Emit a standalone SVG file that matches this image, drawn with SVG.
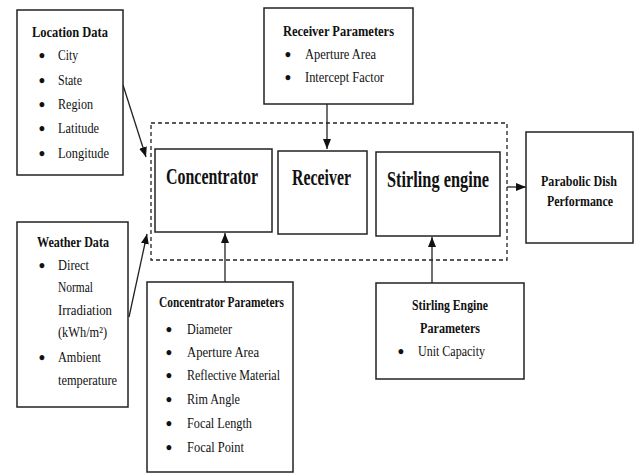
<svg xmlns="http://www.w3.org/2000/svg" width="636" height="475" viewBox="0 0 636 475">
<style>
.box{fill:#fff;stroke:#222;stroke-width:1.5}
.dash{fill:none;stroke:#222;stroke-width:1.3;stroke-dasharray:4 3}
.ln{fill:none;stroke:#222;stroke-width:1.3}
.txt text{font-family:'Liberation Serif','Times New Roman','DejaVu Serif',serif;fill:#111}
.t{font-size:15px;font-weight:bold}
.b{font-size:15px}
.bul{font-size:18px;text-anchor:middle;font-weight:bold}
.big{font-size:23px;font-weight:bold}
</style>
<defs>
<marker id="ah" markerUnits="userSpaceOnUse" markerWidth="10" markerHeight="10" viewBox="0 0 10 10" refX="10" refY="5" orient="auto">
<path d="M0,1 L10,5 L0,9 Z" fill="#111"/>
</marker>
</defs>
<rect width="636" height="475" fill="#fff"/>
<g id="dashed-group"><rect class="dash" x="151" y="123" width="356" height="137"/></g>
<g id="connectors">
<line class="ln" x1="123" y1="85" x2="146" y2="157" marker-end="url(#ah)"/>
<line class="ln" x1="129" y1="317" x2="147" y2="234" marker-end="url(#ah)"/>
<line class="ln" x1="327" y1="104" x2="327" y2="149" marker-end="url(#ah)"/>
<line class="ln" x1="225" y1="282" x2="225" y2="233" marker-end="url(#ah)"/>
<line class="ln" x1="432" y1="283" x2="432" y2="237" marker-end="url(#ah)"/>
<line class="ln" x1="507" y1="187" x2="526" y2="187" marker-end="url(#ah)"/>
</g>
<g class="txt" font-family="Liberation Serif, Times New Roman, serif">
<g id="location-data">
<rect class="box" x="17" y="10" width="106" height="165"/>
<text class="t" x="32" y="37" textLength="76" lengthAdjust="spacingAndGlyphs">Location Data</text>
<text class="bul" x="42" y="62">•</text><text class="b" x="58" y="60" textLength="20" lengthAdjust="spacingAndGlyphs">City</text>
<text class="bul" x="42" y="87">•</text><text class="b" x="58" y="85" textLength="24" lengthAdjust="spacingAndGlyphs">State</text>
<text class="bul" x="42" y="111">•</text><text class="b" x="58" y="109" textLength="35" lengthAdjust="spacingAndGlyphs">Region</text>
<text class="bul" x="42" y="135">•</text><text class="b" x="58" y="133" textLength="41" lengthAdjust="spacingAndGlyphs">Latitude</text>
<text class="bul" x="42" y="160">•</text><text class="b" x="58" y="158" textLength="51" lengthAdjust="spacingAndGlyphs">Longitude</text>
</g>
<g id="weather-data">
<rect class="box" x="17" y="222" width="111" height="185"/>
<text class="t" x="37" y="247" textLength="72" lengthAdjust="spacingAndGlyphs">Weather Data</text>
<text class="bul" x="42" y="272">•</text><text class="b" x="58" y="270" textLength="31" lengthAdjust="spacingAndGlyphs">Direct</text>
<text class="b" x="58" y="292" textLength="35" lengthAdjust="spacingAndGlyphs">Normal</text>
<text class="b" x="58" y="315" textLength="54" lengthAdjust="spacingAndGlyphs">Irradiation</text>
<text class="b" x="58" y="337" textLength="49" lengthAdjust="spacingAndGlyphs">(kWh/m²)</text>
<text class="bul" x="42" y="364">•</text><text class="b" x="58" y="362" textLength="43" lengthAdjust="spacingAndGlyphs">Ambient</text>
<text class="b" x="58" y="385" textLength="59" lengthAdjust="spacingAndGlyphs">temperature</text>
</g>
<g id="receiver-parameters">
<rect class="box" x="264" y="8" width="149" height="96"/>
<text class="t" x="283" y="36" textLength="111" lengthAdjust="spacingAndGlyphs">Receiver Parameters</text>
<text class="bul" x="288" y="61">•</text><text class="b" x="305" y="59" textLength="71" lengthAdjust="spacingAndGlyphs">Aperture Area</text>
<text class="bul" x="288" y="84">•</text><text class="b" x="305" y="82" textLength="79" lengthAdjust="spacingAndGlyphs">Intercept Factor</text>
</g>
<g id="concentrator">
<rect class="box" x="155" y="149" width="117" height="83"/>
<text class="big" x="166" y="184" textLength="92" lengthAdjust="spacingAndGlyphs">Concentrator</text>
</g>
<g id="receiver">
<rect class="box" x="278" y="151" width="89" height="83"/>
<text class="big" x="292" y="185" textLength="59" lengthAdjust="spacingAndGlyphs">Receiver</text>
</g>
<g id="stirling-engine">
<rect class="box" x="376" y="152" width="124" height="84"/>
<text class="big" x="387" y="187" textLength="102" lengthAdjust="spacingAndGlyphs">Stirling engine</text>
</g>
<g id="parabolic-dish-performance">
<rect class="box" x="526" y="132" width="107" height="111"/>
<text class="t" x="541" y="186" textLength="76" lengthAdjust="spacingAndGlyphs">Parabolic Dish</text>
<text class="t" x="547" y="206" textLength="66" lengthAdjust="spacingAndGlyphs">Performance</text>
</g>
<g id="concentrator-parameters">
<rect class="box" x="147" y="282" width="146" height="190"/>
<text class="t" x="159" y="307" textLength="125" lengthAdjust="spacingAndGlyphs">Concentrator Parameters</text>
<text class="bul" x="169" y="336">•</text><text class="b" x="187" y="334" textLength="45" lengthAdjust="spacingAndGlyphs">Diameter</text>
<text class="bul" x="169" y="359">•</text><text class="b" x="187" y="357" textLength="72" lengthAdjust="spacingAndGlyphs">Aperture Area</text>
<text class="bul" x="169" y="382">•</text><text class="b" x="187" y="380" textLength="93" lengthAdjust="spacingAndGlyphs">Reflective Material</text>
<text class="bul" x="169" y="406">•</text><text class="b" x="187" y="404" textLength="53" lengthAdjust="spacingAndGlyphs">Rim Angle</text>
<text class="bul" x="169" y="430">•</text><text class="b" x="187" y="428" textLength="65" lengthAdjust="spacingAndGlyphs">Focal Length</text>
<text class="bul" x="169" y="454">•</text><text class="b" x="187" y="452" textLength="57" lengthAdjust="spacingAndGlyphs">Focal Point</text>
</g>
<g id="stirling-engine-parameters">
<rect class="box" x="376" y="283" width="148" height="96"/>
<text class="t" x="412" y="310" textLength="76" lengthAdjust="spacingAndGlyphs">Stirling Engine</text>
<text class="t" x="420" y="333" textLength="60" lengthAdjust="spacingAndGlyphs">Parameters</text>
<text class="bul" x="401" y="358">•</text><text class="b" x="418" y="356" textLength="67" lengthAdjust="spacingAndGlyphs">Unit Capacity</text>
</g>
</g>
</svg>
